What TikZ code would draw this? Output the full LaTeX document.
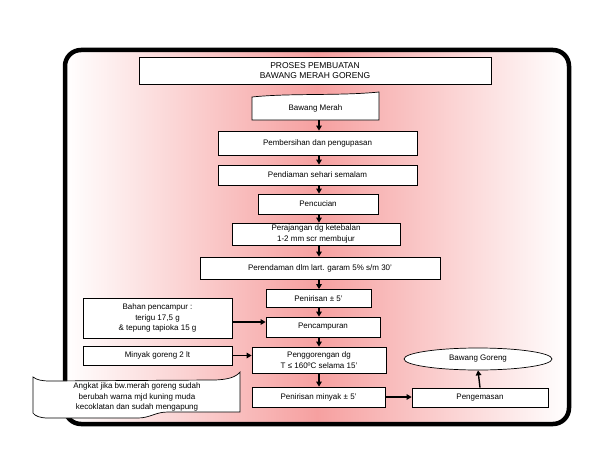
\documentclass[tikz,border=0pt]{standalone}
\usepackage{fontspec}
\setmainfont{Liberation Sans}
\usetikzlibrary{arrows.meta,shapes.geometric}
\definecolor{pinkc}{RGB}{246,160,160}
\begin{document}
\begin{tikzpicture}[x=1pt,y=-1pt,
  box/.style={draw=black,line width=0.7pt,fill=white,inner sep=1pt,align=center,font=\fontsize{8}{10.5}\selectfont},
  arr/.style={line width=1.4pt,-{Triangle[length=5pt,width=5.5pt]}}]
\useasboundingbox (0,0) rectangle (612,468);
% frame with gradient
\shade[left color=white,right color=white,middle color=pinkc,rounded corners=16pt] (65,50) rectangle (569,424);
\draw[line width=4.5pt,rounded corners=16pt] (65,50) rectangle (569,424);
% title
\node[box,minimum width=352,minimum height=27,font=\fontsize{8.5}{10}\selectfont] (title) at (315,70.5) {PROSES PEMBUATAN\\BAWANG MERAH GORENG};
% Bawang Merah (wavy top)
\draw[fill=white,line width=0.7pt] (252,97) .. controls (290,93) and (340,96) .. (379,92) -- (379,120) -- (252,120) -- cycle;
\node[box,draw=none,fill=none,minimum height=24] (bm) at (315.5,108) {Bawang Merah};
% main column
\node[box,minimum width=199,minimum height=24] (p1) at (317.5,143) {Pembersihan dan pengupasan};
\node[box,minimum width=199,minimum height=20] (p2) at (317.5,175) {Pendiaman sehari semalam};
\node[box,minimum width=120,minimum height=20] (p3) at (318,204) {Pencucian};
\node[box,minimum width=168,minimum height=22] (p4) at (316,234) {Perajangan dg ketebalan\\1-2 mm scr membujur};
\node[box,minimum width=240,minimum height=22] (p5) at (320,268) {Perendaman dlm lart. garam 5\% s/m 30'};
\node[box,minimum width=105,minimum height=18] (p6) at (318.5,298.5) {Penirisan ± 5'};
\node[box,minimum width=114,minimum height=20] (p7) at (323,327) {Pencampuran};
\node[box,minimum width=134,minimum height=26] (p8) at (319,360) {Penggorengan dg\\T ≤ 160ºC selama 15'};
\node[box,minimum width=133,minimum height=20] (p9) at (318.5,397) {Penirisan minyak ± 5'};
\node[box,minimum width=136,minimum height=19] (p10) at (480,397.5) {Pengemasan};
\node[box,ellipse,inner sep=0pt,minimum width=148,minimum height=22] (bg) at (478,359) {Bawang Goreng};
% side inputs
\node[box,minimum width=149,minimum height=40] (bahan) at (157.5,318) {Bahan pencampur :\\terigu 17,5 g\\\& tepung tapioka 15 g};
\node[box,minimum width=149,minimum height=19] (minyak) at (157.5,355.5) {Minyak goreng 2 lt};
% banner
\draw[fill=white,line width=0.7pt] (33,377) .. controls (37,380) and (42,381) .. (50,381) -- (212,380) .. controls (228,380) and (236,377) .. (240,372) -- (240,412) -- (168,412) .. controls (155,412) and (150,418) .. (138,418) -- (48,418) .. controls (40,418) and (35,416) .. (33,413) -- cycle;
\node[box,draw=none,fill=none] (banner) at (137,397) {Angkat jika bw.merah goreng sudah\\berubah warna mjd kuning muda\\kecoklatan dan sudah mengapung};
% arrows
\coordinate (ax) at (319,0);
\draw[arr] (bm.south -| ax) -- (p1.north -| ax);
\draw[arr] (p1.south -| ax) -- (p2.north -| ax);
\draw[arr] (p2.south -| ax) -- (p3.north -| ax);
\draw[arr] (p3.south -| ax) -- (p4.north -| ax);
\draw[arr] (p4.south -| ax) -- (p5.north -| ax);
\draw[arr] (p5.south -| ax) -- (p6.north -| ax);
\draw[arr] (p6.south -| ax) -- (p7.north -| ax);
\draw[arr] (p7.south -| ax) -- (p8.north -| ax);
\draw[arr] (p8.south -| ax) -- (p9.north -| ax);
\draw[arr] ([yshift=-4pt]bahan.east) -- ([yshift=-4pt]bahan.east -| p7.west);
\draw[arr] (minyak.east) -- (minyak.east -| p8.west);
\draw[arr] (p9.east) -- (p9.east -| p10.west);
\draw[arr] (p10.north) -- (bg.south);
\end{tikzpicture}
\end{document}
